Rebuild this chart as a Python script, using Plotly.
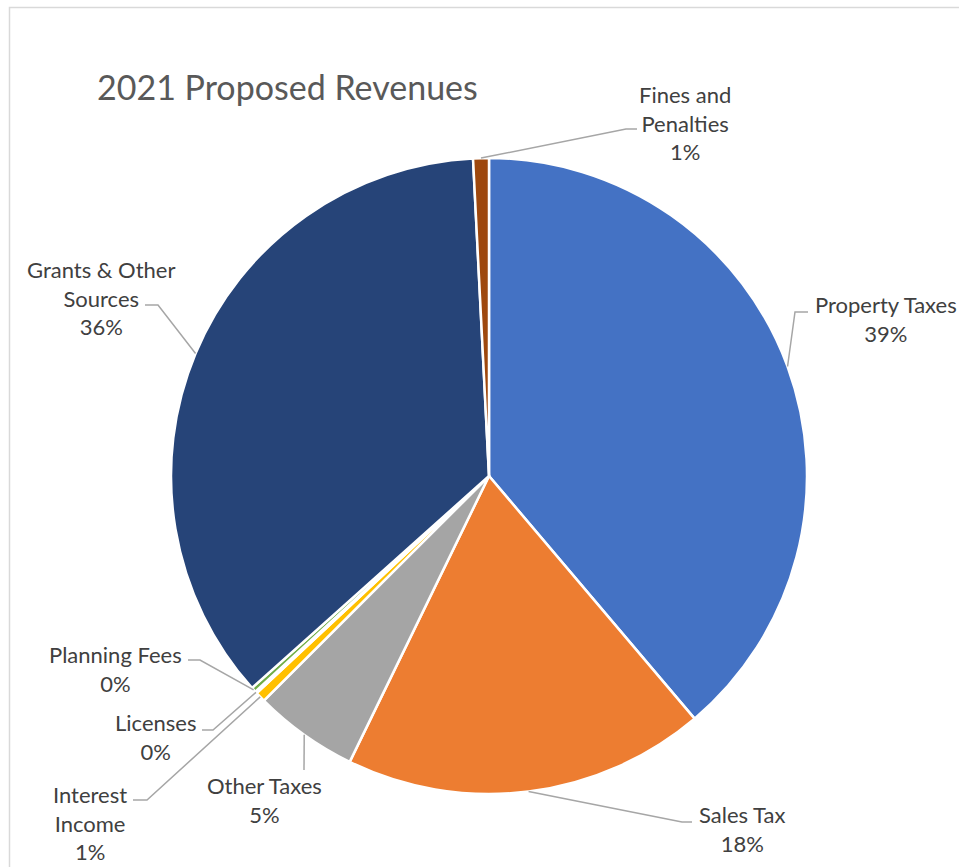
import math
import plotly.graph_objects as go

# Revenue sources, clockwise from 12 o'clock, and their share of the total (%)
categories = ["Property Taxes", "Sales Tax", "Other Taxes", "Interest Income",
              "Licenses", "Planning Fees", "Grants & Other Sources", "Fines and Penalties"]
shares = [38.8, 18.4, 5.3, 0.52, 0.1, 0.25, 35.8, 0.8]
colors = ["#4472C4", "#ED7D31", "#A5A5A5", "#FFC000",
          "#5B9BD5", "#70AD47", "#264478", "#9E480E"]
# How each name wraps in its data label
label_names = ["Property Taxes", "Sales Tax", "Other Taxes", "Interest<br>Income",
               "Licenses", "Planning Fees", "Grants & Other<br>Sources", "Fines and<br>Penalties"]

W, H = 959, 867
CX, CY, R = 489, 476, 318  # pie centre and radius in pixels

# Label placement (pixels): text centre, elbow of the leader line, end of the leader line
label_pos = {
    "Property Taxes": ((886, 319), (795, 312), (808, 312)),
    "Sales Tax": ((742, 829), (682, 822), (692, 822)),
    "Other Taxes": ((264, 800), (304, 770), (304, 770)),
    "Interest Income": ((90, 823), (147, 800), (133, 800)),
    "Licenses": ((155, 737), (213, 730), (202, 730)),
    "Planning Fees": ((115, 669), (200, 660), (188, 660)),
    "Grants & Other Sources": ((101, 298), (158, 305), (145, 305)),
    "Fines and Penalties": ((685, 123), (626, 129), (637, 129)),
}


def px(x):
    return x / W


def py(y):
    return 1 - y / H


FONT = "Lato, 'Open Sans', sans-serif"

fig = go.Figure(go.Pie(
    labels=categories,
    values=shares,
    sort=False,
    direction="clockwise",
    rotation=0,
    marker=dict(colors=colors, line=dict(color="white", width=2.5)),
    textinfo="none",
    hovertemplate="%{label}: %{percent}<extra></extra>",
    showlegend=False,
    domain=dict(x=[px(CX - R), px(CX + R)], y=[py(CY + R), py(CY - R)]),
))

total = sum(shares)
annotations = []
shapes = []
start = 0.0
for name, val, text in zip(categories, shares, label_names):
    sweep = val / total * 360.0
    mid = math.radians(start + sweep / 2)
    start += sweep
    # point on the rim at the middle of the slice
    ex = CX + R * math.sin(mid)
    ey = CY - R * math.cos(mid)
    (tx, ty), (kx, ky), (lx, ly) = label_pos[name]
    pct = math.floor(val / total * 100 + 0.5)
    annotations.append(dict(
        x=px(tx), y=py(ty), xref="paper", yref="paper",
        text=f"{text}<br>{pct}%", showarrow=False, align="center",
        xanchor="center", yanchor="middle",
        font=dict(family=FONT, size=22, color="#404040"),
    ))
    shapes.append(dict(
        type="path", xref="paper", yref="paper",
        path=f"M {px(ex)} {py(ey)} L {px(kx)} {py(ky)} L {px(lx)} {py(ly)}",
        line=dict(color="#A6A6A6", width=1.5),
    ))

# chart-area frame
shapes.append(dict(type="rect", xref="paper", yref="paper",
                   x0=px(9.5), y0=py(7.5), x1=px(W + 20), y1=py(H + 20),
                   line=dict(color="#D9D9D9", width=1.5), layer="below"))

annotations.append(dict(
    x=px(95), y=py(86), xref="paper", yref="paper",
    text="2021 Proposed Revenues", showarrow=False,
    xanchor="left", yanchor="middle",
    font=dict(family=FONT, size=34, color="#595959"),
))

fig.update_layout(
    width=W, height=H,
    margin=dict(l=0, r=0, t=0, b=0),
    paper_bgcolor="white", plot_bgcolor="white",
    annotations=annotations, shapes=shapes,
)

fig.write_html("out.html")
